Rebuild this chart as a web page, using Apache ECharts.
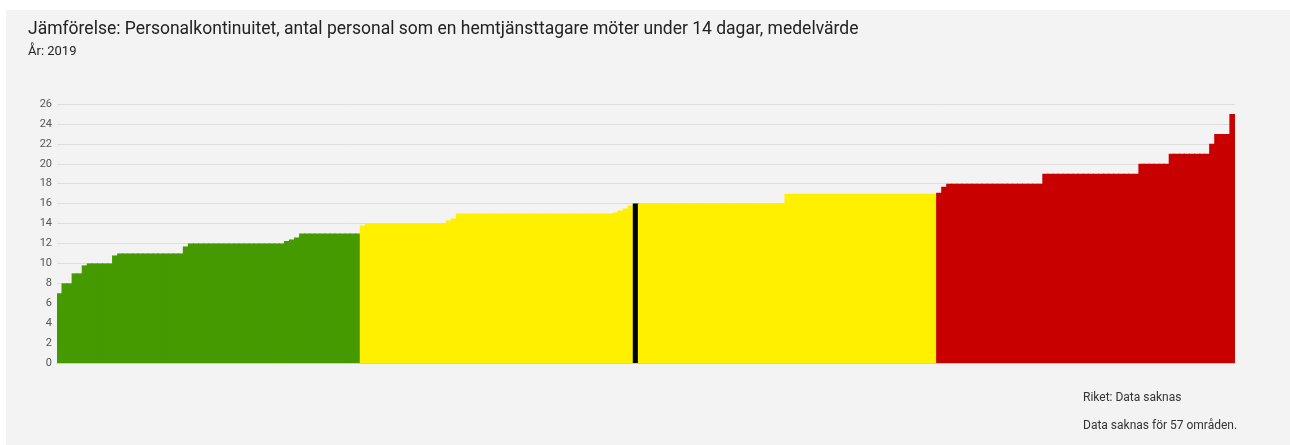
<!DOCTYPE html>
<html>
<head>
<meta charset="utf-8">
<script src="https://cdn.jsdelivr.net/npm/echarts@6/dist/echarts.min.js"></script>
<style>
  html, body { margin: 0; padding: 0; background: #fff; }
  #chart { position: absolute; left: 6px; top: 10px; width: 1284px; height: 435px; background: #f3f3f3; }
</style>
</head>
<body>
<div id="chart"></div>
<script>
// sorted municipality values, split by colour band
var greenVals = [7, 8, 8, 9, 9, 9.8, 10, 10, 10, 10, 10, 10.8,
  11, 11, 11, 11, 11, 11, 11, 11, 11, 11, 11, 11, 11, 11.7,
  12, 12, 12, 12, 12, 12, 12, 12, 12, 12, 12, 12, 12, 12, 12, 12, 12, 12, 12,
  12.25, 12.4, 12.6,
  13, 13, 13, 13, 13, 13, 13, 13, 13, 13, 13, 13];
var yellowLowVals = [13.8, 14, 14, 14, 14, 14, 14, 14, 14, 14, 14, 14, 14, 14, 14, 14, 14,
  14.3, 14.5,
  15, 15, 15, 15, 15, 15, 15, 15, 15, 15, 15, 15, 15, 15, 15, 15,
  15, 15, 15, 15, 15, 15, 15, 15, 15, 15, 15, 15, 15, 15, 15,
  15.1, 15.3, 15.5, 15.8];
var selectedVal = [16];
var yellowHighVals = [16, 16, 16, 16, 16, 16, 16, 16, 16, 16, 16, 16, 16, 16, 16,
  16, 16, 16, 16, 16, 16, 16, 16, 16, 16, 16, 16, 16, 16,
  17, 17, 17, 17, 17, 17, 17, 17, 17, 17, 17, 17, 17, 17, 17,
  17, 17, 17, 17, 17, 17, 17, 17, 17, 17, 17, 17, 17, 17, 17];
var redVals = [17.1, 17.7,
  18, 18, 18, 18, 18, 18, 18, 18, 18, 18, 18, 18, 18, 18, 18, 18, 18, 18, 18,
  19, 19, 19, 19, 19, 19, 19, 19, 19, 19, 19, 19, 19, 19, 19, 19, 19, 19, 19,
  20, 20, 20, 20, 20, 20,
  21, 21, 21, 21, 21, 21, 21, 21,
  22, 23, 23, 23, 25];
var yTicks = [0, 2, 4, 6, 8, 10, 12, 14, 16, 18, 20, 22, 24, 26];

var chart = echarts.init(document.getElementById('chart'));

var data = [];
function addBand(vals, color) {
  vals.forEach(function (v) {
    data.push({ value: v, itemStyle: { color: color } });
  });
}
addBand(greenVals, '#459a00');
addBand(yellowLowVals, '#fff000');
addBand(selectedVal, '#000000');
addBand(yellowHighVals, '#fff000');
addBand(redVals, '#c80000');

var cats = data.map(function (d, i) { return 'k' + i; });

chart.setOption({
  animation: false,
  textStyle: { fontFamily: 'Roboto' },
  title: [
    { text: 'Jämförelse: Personalkontinuitet, antal personal som en hemtjänsttagare möter under 14 dagar, medelvärde',
      left: 17, top: 6, textStyle: { fontSize: 17.5, fontWeight: 'normal', color: '#222' } },
    { text: 'År: 2019', left: 17, top: 30, textStyle: { fontSize: 13, fontWeight: 'normal', color: '#222' } },
    { text: 'Riket: Data saknas', left: 1072, top: 377, textStyle: { fontSize: 12, fontWeight: 'normal', color: '#333' } },
    { text: 'Data saknas för 57 områden.', left: 1072, top: 405, textStyle: { fontSize: 12, fontWeight: 'normal', color: '#333' } }
  ],
  grid: { left: 51, right: 55, top: 94, bottom: 82 },
  xAxis: {
    type: 'category',
    data: cats,
    axisTick: { show: false },
    axisLabel: { show: false },
    axisLine: { show: true, lineStyle: { color: '#cccccc' } }
  },
  yAxis: {
    type: 'value',
    min: yTicks[0],
    max: yTicks[yTicks.length - 1],
    interval: 2,
    axisLine: { show: false },
    axisTick: { show: false },
    axisLabel: { color: '#555', fontSize: 11, margin: 5 },
    splitLine: { lineStyle: { color: '#dddddd' } }
  },
  series: [{
    type: 'bar',
    data: data,
    // slightly wider than a category so neighbouring bars overlap, no hairline gaps
    barWidth: 6.2
  }]
});
</script>
</body>
</html>
